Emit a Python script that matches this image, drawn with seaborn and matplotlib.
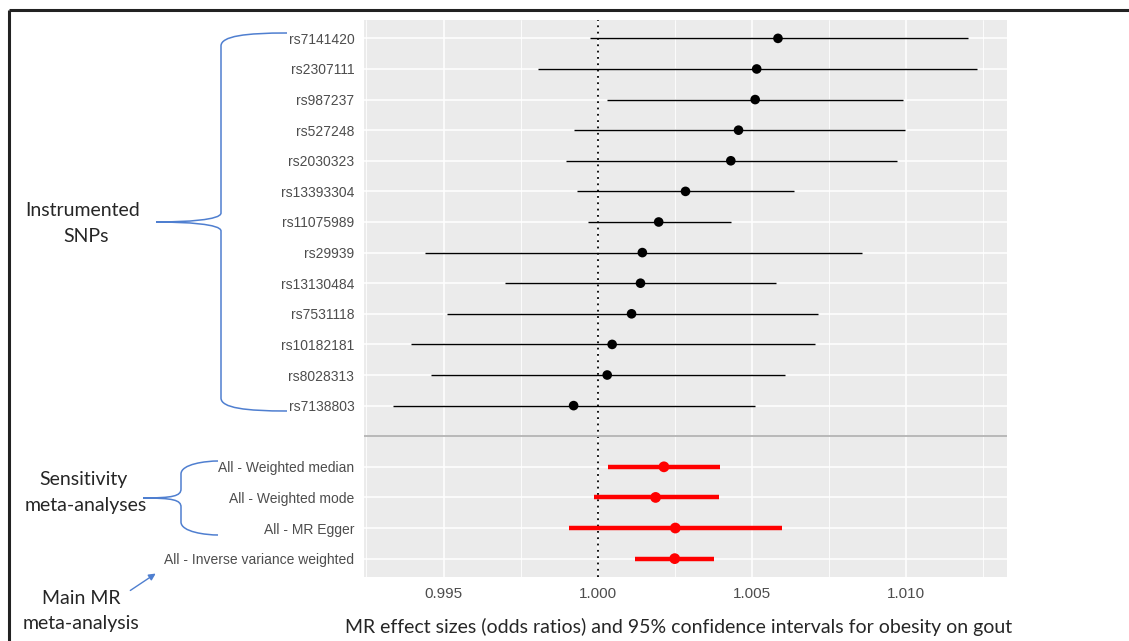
import numpy as np
import pandas as pd
import matplotlib
matplotlib.use("Agg")
import matplotlib.pyplot as plt
from matplotlib.path import Path
from matplotlib.patches import PathPatch, FancyArrowPatch
import seaborn as sns

# ---- data ----
snps = ["rs7141420", "rs2307111", "rs987237", "rs527248", "rs2030323",
        "rs13393304", "rs11075989", "rs29939", "rs13130484", "rs7531118",
        "rs10182181", "rs8028313", "rs7138803"]
snp_or = [1.00585, 1.00516, 1.00511, 1.00457, 1.00432, 1.00285, 1.00198,
          1.00145, 1.00139, 1.00110, 1.00047, 1.00031, 0.99922]
snp_lo = [0.99974, 0.99806, 1.00031, 0.99923, 0.99898, 0.99932, 0.99968,
          0.99439, 0.99701, 0.99511, 0.99394, 0.99459, 0.99335]
snp_hi = [1.01201, 1.01232, 1.00992, 1.00996, 1.00971, 1.00637, 1.00432,
          1.00859, 1.00579, 1.00716, 1.00705, 1.00607, 1.00511]

methods = ["All - Weighted median", "All - Weighted mode", "All - MR Egger",
           "All - Inverse variance weighted"]
meth_or = [1.00215, 1.00188, 1.00252, 1.00250]
meth_lo = [1.00035, 0.99988, 0.99906, 1.00121]
meth_hi = [1.00396, 1.00393, 1.00599, 1.00378]

x_ticks = [0.995, 1.000, 1.005, 1.010]
x_minor = [0.9925, 0.9975, 1.0025, 1.0075, 1.0125]

order = snps + [""] + methods

snp_df = pd.DataFrame({"label": snps, "or": snp_or, "lo": snp_lo, "hi": snp_hi})
meth_df = pd.DataFrame({"label": methods, "or": meth_or, "lo": meth_lo, "hi": meth_hi})
snp_df["pos"] = snp_df["label"].map(order.index)
meth_df["pos"] = meth_df["label"].map(order.index)

sns.set_theme(style="darkgrid")
plt.rcParams["font.family"] = ["Liberation Sans", "DejaVu Sans"]

W, H = 1129, 641
fig = plt.figure(figsize=(W / 100, H / 100), dpi=100)
fig.patch.set_facecolor("white")

# panel position in pixels: x 364..1007, y 20..577
ax = fig.add_axes([364 / W, 1 - 577 / H, (1007 - 364) / W, (577 - 20) / H])
ax.set_facecolor("#EBEBEB")

# grid
ax.set_xticks(x_ticks)
ax.set_xticks(x_minor, minor=True)
ax.grid(which="major", axis="both", color="white", lw=1.1)
ax.grid(which="minor", axis="x", color="white", lw=0.6)
ax.set_axisbelow(True)

# null line and separator
ax.axvline(1.0, color="black", ls=(0, (1, 2.5)), lw=1.3, zorder=2)
ax.axhline(order.index(""), color="#B3B3B3", lw=1.3, zorder=2)

# intervals
ax.hlines(snp_df["pos"], snp_df["lo"], snp_df["hi"], color="black", lw=1.0, zorder=3)
ax.hlines(meth_df["pos"], meth_df["lo"], meth_df["hi"], color="#FF0000", lw=3.2, zorder=3)
sns.scatterplot(data=snp_df, x="or", y="pos", color="black", s=48,
                edgecolor="none", ax=ax, zorder=4)
sns.scatterplot(data=meth_df, x="or", y="pos", color="#FF0000", s=60,
                edgecolor="none", ax=ax, zorder=4)

ax.set_xlim(0.99242, 1.01328)
ax.set_ylim(len(order) - 0.4, -0.6)
ax.set_yticks(range(len(order)))
ax.set_yticklabels(order)
ax.set_xticklabels([f"{t:.3f}" for t in x_ticks])
ax.set_xlabel("")
ax.set_ylabel("")
ax.tick_params(axis="both", which="major", length=3.5, width=0.8, color="#333333",
               labelcolor="#4D4D4D", labelsize=10)
ax.tick_params(axis="x", which="major", labelsize=11, pad=4)
ax.tick_params(axis="x", which="minor", length=0)
for s in ax.spines.values():
    s.set_visible(False)

# ---- overlay for annotations, in pixel coords ----
ov = fig.add_axes([0, 0, 1, 1], facecolor="none")
ov.set_xlim(0, W)
ov.set_ylim(H, 0)
ov.axis("off")

# frame lines
ov.plot([9, W], [10, 10], color="#222222", lw=2.2, solid_capstyle="butt")
ov.plot([9, 9], [10, H], color="#222222", lw=2.2, solid_capstyle="butt")

blue = "#4F7FD0"


def brace(x_end, x_mid, x_tip, y_top, y_tip, y_bot):
    verts = [(x_end, y_top), (x_mid + 25, y_top), (x_mid, y_top + 3), (x_mid, y_top + 13),
             (x_mid, y_tip - 9),
             (x_mid, y_tip - 2), (x_tip + 30, y_tip), (x_tip, y_tip),
             (x_tip + 30, y_tip), (x_mid, y_tip + 2), (x_mid, y_tip + 9),
             (x_mid, y_bot - 13),
             (x_mid, y_bot - 3), (x_mid + 25, y_bot), (x_end, y_bot)]
    codes = [Path.MOVETO, Path.CURVE4, Path.CURVE4, Path.CURVE4,
             Path.LINETO,
             Path.CURVE4, Path.CURVE4, Path.CURVE4,
             Path.CURVE4, Path.CURVE4, Path.CURVE4,
             Path.LINETO,
             Path.CURVE4, Path.CURVE4, Path.CURVE4]
    ov.add_patch(PathPatch(Path(verts, codes), facecolor="none", edgecolor=blue, lw=1.1))


brace(287, 221, 156, 33, 222, 411)
brace(218, 181, 143, 461, 498, 535)

ov.add_patch(FancyArrowPatch((128, 592), (158, 572), arrowstyle="-|>", mutation_scale=10,
                             color=blue, lw=1.0))

note_font = ["Lato", "DejaVu Sans"]
ov.text(83, 211, "Instrumented", ha="center", va="center", fontsize=14, family=note_font)
ov.text(86, 237, "SNPs", ha="center", va="center", fontsize=14, family=note_font)
ov.text(83, 480, "Sensitivity", ha="center", va="center", fontsize=14, family=note_font)
ov.text(86, 506, "meta-analyses", ha="center", va="center", fontsize=14, family=note_font)
ov.text(81, 598, "Main MR", ha="center", va="center", fontsize=14, family=note_font)
ov.text(81, 624, "meta-analysis", ha="center", va="center", fontsize=14, family=note_font)
ov.text(679, 627, "MR effect sizes (odds ratios) and 95% confidence intervals for obesity on gout",
        ha="center", va="center", fontsize=14, family=note_font)

fig.savefig("out.png", dpi=100)
